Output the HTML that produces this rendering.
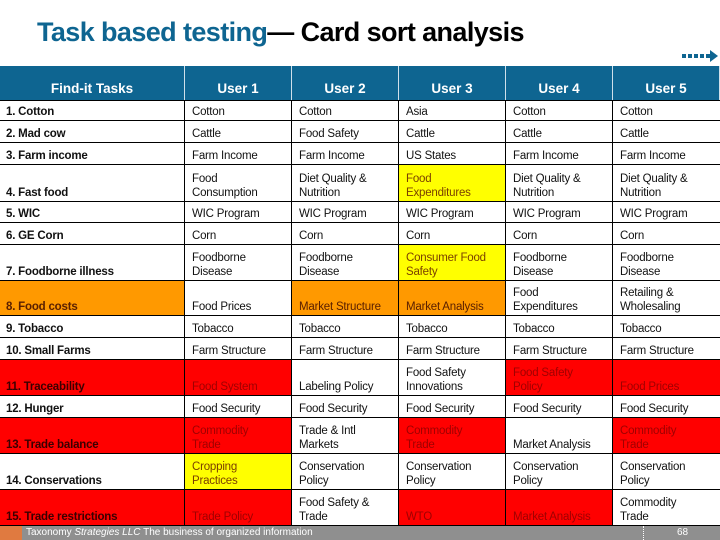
<!DOCTYPE html>
<html><head><meta charset="utf-8"><style>
body{margin:0;width:720px;height:540px;overflow:hidden;background:#fff;font-family:"Liberation Sans",sans-serif;position:relative}
.t{position:absolute;left:37px;top:17px;font-size:27px;font-weight:bold;letter-spacing:-0.6px;color:#000;white-space:nowrap}
.t span{color:#0e6591}
.c{position:absolute;box-sizing:border-box;border-right:1px solid #000;border-bottom:1px solid #000;font-size:11.5px;color:#111;padding:0 0 1px 7px;display:flex;align-items:flex-end;line-height:14px;letter-spacing:-0.2px}
.k{font-weight:bold;padding-left:6px}
.h{position:absolute;top:66px;height:34px;background:#0e6591;color:#fff;font-weight:bold;font-size:13.5px;display:flex;align-items:center;justify-content:center;box-sizing:border-box;border-right:1px solid #cfe0ea;padding-top:10px}
.R{background:#ff0000;color:#a00000}.Rk{background:#ff0000;color:#3a0000}
.Y{background:#ffff00;color:#7a4000}.O{background:#ff9900;color:#5a2000}
.foot{position:absolute;left:0;top:526px;width:720px;height:14px;background:#8f8f8f;color:#fff;font-size:10px;line-height:14px}
</style></head><body>
<div class="t"><span>Task based testing</span>— Card sort analysis</div>
<svg style="position:absolute;left:682px;top:50px" width="38" height="12"><g fill="#0e6591"><rect x="0" y="4" width="4" height="4"/><rect x="6" y="4" width="4" height="4"/><rect x="12" y="4" width="4" height="4"/><rect x="18" y="4" width="4" height="4"/><rect x="24" y="4" width="4" height="4"/><polygon points="28,0 36,6 28,12"/></g></svg>
<div id="grid"></div>
<div class="foot"><div style="position:absolute;left:0;top:0;width:22px;height:14px;background:#e07a40"></div><span style="position:absolute;left:26px">Taxonomy <i>Strategies LLC</i> The business of organized information</span><div style="position:absolute;left:643px;top:0;height:14px;border-left:1px dotted #fff"></div><span style="position:absolute;left:677px">68</span></div>
<script>
const cols=[0,185,292,399,506,613,720];
const rowsY=[100,121,143,165,202,223,245,281,316,338,360,396,418,454,490,526];
const headers=["Find-it Tasks","User 1","User 2","User 3","User 4","User 5"];
const data=[
["1. Cotton","Cotton","Cotton","Asia","Cotton","Cotton"],
["2. Mad cow","Cattle","Food Safety","Cattle","Cattle","Cattle"],
["3. Farm income","Farm Income","Farm Income","US States","Farm Income","Farm Income"],
["4. Fast food","Food<br>Consumption","Diet Quality &amp;<br>Nutrition","Food<br>Expenditures","Diet Quality &amp;<br>Nutrition","Diet Quality &amp;<br>Nutrition"],
["5. WIC","WIC Program","WIC Program","WIC Program","WIC Program","WIC Program"],
["6. GE Corn","Corn","Corn","Corn","Corn","Corn"],
["7. Foodborne illness","Foodborne<br>Disease","Foodborne<br>Disease","Consumer Food<br>Safety","Foodborne<br>Disease","Foodborne<br>Disease"],
["8. Food costs","Food Prices","Market Structure","Market Analysis","Food<br>Expenditures","Retailing &amp;<br>Wholesaling"],
["9. Tobacco","Tobacco","Tobacco","Tobacco","Tobacco","Tobacco"],
["10. Small Farms","Farm Structure","Farm Structure","Farm Structure","Farm Structure","Farm Structure"],
["11. Traceability","Food System","Labeling Policy","Food Safety<br>Innovations","Food Safety<br>Policy","Food Prices"],
["12. Hunger","Food Security","Food Security","Food Security","Food Security","Food Security"],
["13. Trade balance","Commodity<br>Trade","Trade &amp; Intl<br>Markets","Commodity<br>Trade","Market Analysis","Commodity<br>Trade"],
["14. Conservations","Cropping<br>Practices","Conservation<br>Policy","Conservation<br>Policy","Conservation<br>Policy","Conservation<br>Policy"],
["15. Trade restrictions","Trade Policy","Food Safety &amp;<br>Trade","WTO","Market Analysis","Commodity<br>Trade"]];
const fills=["......","......","......","...Y..","......","......","...Y..","O.OO..","......","......","RR..RR","......","RR.R.R",".Y....","RR.RR."];
const g=document.getElementById('grid');
headers.forEach((h,i)=>{const d=document.createElement('div');


d.className='h';d.style.left=cols[i]+'px';d.style.width=(cols[i+1]-cols[i])+'px';d.textContent=h;g.appendChild(d);});
data.forEach((r,ri)=>{r.forEach((v,ci)=>{const d=document.createElement('div');


const f=fills[ri][ci];let cls='c'+(ci==0?' k':'');
if(f=='R')cls+=ci==0?' Rk':' R';if(f=='Y')cls+=' Y';if(f=='O')cls+=' O';
d.className=cls;d.style.left=cols[ci]+'px';d.style.top=rowsY[ri]+'px';
d.style.width=(cols[ci+1]-cols[ci]+(ci==5?1:0))+'px';d.style.height=(rowsY[ri+1]-rowsY[ri])+'px';
if(ri==0)d.style.borderTop='1px solid #000';
d.innerHTML='<div>'+v+'</div>';g.appendChild(d);});});
</script>
</body></html>
